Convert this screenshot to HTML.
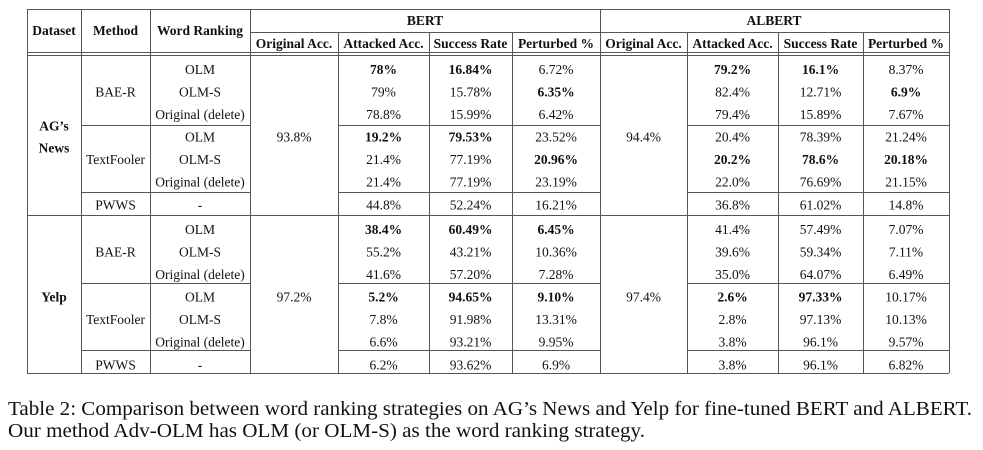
<!DOCTYPE html>
<html><head><meta charset="utf-8"><style>
html,body{margin:0;padding:0;background:#fff;width:983px;height:450px;overflow:hidden}
svg{display:block;font-family:"Liberation Serif",serif}
</style></head><body>
<svg id="t" width="983" height="450" viewBox="0 0 983 450"></svg>
<script>
const cols=[27,81,150,250,338,429,512,600,687,778,863,949];
const agRows=[
["OLM","*78%","*16.84%","6.72%","*79.2%","*16.1%","8.37%"],
["OLM-S","79%","15.78%","*6.35%","82.4%","12.71%","*6.9%"],
["Original (delete)","78.8%","15.99%","6.42%","79.4%","15.89%","7.67%"],
["OLM","*19.2%","*79.53%","23.52%","20.4%","78.39%","21.24%"],
["OLM-S","21.4%","77.19%","*20.96%","*20.2%","*78.6%","*20.18%"],
["Original (delete)","21.4%","77.19%","23.19%","22.0%","76.69%","21.15%"],
["-","44.8%","52.24%","16.21%","36.8%","61.02%","14.8%"]];
const yelpRows=[
["OLM","*38.4%","*60.49%","*6.45%","41.4%","57.49%","7.07%"],
["OLM-S","55.2%","43.21%","10.36%","39.6%","59.34%","7.11%"],
["Original (delete)","41.6%","57.20%","7.28%","35.0%","64.07%","6.49%"],
["OLM","*5.2%","*94.65%","*9.10%","*2.6%","*97.33%","10.17%"],
["OLM-S","7.8%","91.98%","13.31%","2.8%","97.13%","10.13%"],
["Original (delete)","6.6%","93.21%","9.95%","3.8%","96.1%","9.57%"],
["-","6.2%","93.62%","6.9%","3.8%","96.1%","6.82%"]];
const datasets=["AG’s News","Yelp"];
const origAcc=[["93.8%","94.4%"],["97.2%","97.4%"]];
const s=document.getElementById('t');
const NS="http://www.w3.org/2000/svg";
const FS=13.5;
function line(x1,y1,x2,y2){const l=document.createElementNS(NS,'line');
l.setAttribute('x1',x1);l.setAttribute('y1',y1);l.setAttribute('x2',x2);l.setAttribute('y2',y2);
l.setAttribute('stroke','#555');l.setAttribute('stroke-width','1');


s.appendChild(l);}
function txt(x,y,str,bold,size,anchor,name,len){const t=document.createElementNS(NS,'text');
t.setAttribute('x',x);t.setAttribute('y',y);t.setAttribute('font-size',size||FS);
t.setAttribute('text-anchor',anchor||'middle');if(bold)t.setAttribute('font-weight','bold');
if(len){t.setAttribute('textLength',len);t.setAttribute('lengthAdjust','spacingAndGlyphs');}
t.setAttribute('fill','#111');t.textContent=str;


s.appendChild(t);}
function cx(i){return (cols[i]+cols[i+1])/2;}
[9,215,373].forEach(y=>line(27,y+0.5,949,y+0.5));
line(27,52.5,949,52.5);line(27,55.5,949,55.5);
line(250,32.5,949,32.5);
[125,192,283,350].forEach(y=>{line(81,y+0.5,250,y+0.5);line(338,y+0.5,600,y+0.5);line(687,y+0.5,949,y+0.5);});
cols.forEach((x,i)=>{const top=[4,5,6,8,9,10].includes(i)?32:9;line(x+0.5,top,x+0.5,373);});
txt(cx(0),35,"Dataset",true,FS,'middle','header-dataset');
txt(cx(1),35,"Method",true,FS,'middle','header-method');
txt(cx(2),35,"Word Ranking",true,FS,'middle','header-word-ranking');
txt(425,25,"BERT",true,FS,'middle','header-bert');
txt(774,25,"ALBERT",true,FS,'middle','header-albert');
const sub=["Original Acc.","Attacked Acc.","Success Rate","Perturbed %"];
sub.forEach((h,i)=>{txt(cx(3+i),48,h,true,FS,'middle','subheader');txt(cx(7+i),48,h,true,FS,'middle','subheader');});
const starts=[55,215];
[agRows,yelpRows].forEach((rows,d)=>{
 const y0=starts[d];
 const yc=r=>y0+14+r*22.4+(r>=3?0.5:0)+(r>=6?0.5:0);
 rows.forEach((row,r)=>{
  const y=yc(r)+5;
  txt(cx(2),y,row[0],false,FS,'middle','word-ranking-cell');
  [1,2,3].forEach(k=>{let v=row[k];const b=v[0]=='*';txt(cx(3+k),y,b?v.slice(1):v,b,FS,'middle','bert-value');});
  [4,5,6].forEach(k=>{let v=row[k];const b=v[0]=='*';txt(cx(4+k),y,b?v.slice(1):v,b,FS,'middle','albert-value');});
 });
 txt(cx(1),yc(1)+5,"BAE-R",false,FS,'middle','method-cell');
 txt(cx(1),yc(4)+5,"TextFooler",false,FS,'middle','method-cell');
 txt(cx(1),yc(6)+5,"PWWS",false,FS,'middle','method-cell');
 txt(cx(3),yc(3)+5,origAcc[d][0],false,FS,'middle','bert-original-acc');
 txt(cx(7),yc(3)+5,origAcc[d][1],false,FS,'middle','albert-original-acc');
 if(d==0){txt(cx(0),yc(3)-6,"AG’s",true,FS,'middle','dataset-cell');txt(cx(0),yc(3)+16,"News",true,FS,'middle','dataset-cell');}
 else txt(cx(0),yc(3)+5,"Yelp",true,FS,'middle','dataset-cell');
});
txt(8,415,"Table 2: Comparison between word ranking strategies on AG’s News and Yelp for fine-tuned BERT and ALBERT.",false,20,'start','caption-line-1',964);
txt(8,437,"Our method Adv-OLM has OLM (or OLM-S) as the word ranking strategy.",false,20,'start','caption-line-2',637);
</script>
</body></html>
